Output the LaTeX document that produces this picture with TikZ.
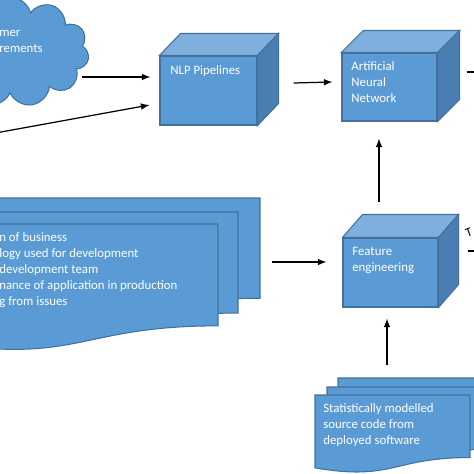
\documentclass[tikz,border=0pt]{standalone}
\usepackage{fontspec}
\setmainfont{Carlito}
\usetikzlibrary{arrows,shapes.symbols}

\definecolor{boxblue}{HTML}{5B9BD5}
\definecolor{boxedge}{HTML}{41719C}
\definecolor{boxtop}{HTML}{7FAFDD}
\definecolor{boxside}{HTML}{4A7EB3}

\newlength\px
\setlength\px{0.02cm}

\tikzset{
	face/.style={draw=boxedge, fill=boxblue, line width=0.6pt, inner sep=0pt},
	lbl/.style={text=white, font=\fontsize{7.3}{9.1}\selectfont, align=left, inner sep=0pt, anchor=north west},
	arr/.style={->, >=latex, line width=0.7pt},
}

% top and right faces of a box, #1 = front node
\newcommand{\boxfaces}[3]{%
	\filldraw[face, fill=boxtop] (#1.north west) -- ++(#2,#3) -- ([shift={(#2,#3)}]#1.north east) -- (#1.north east) -- cycle;
	\filldraw[face, fill=boxside] (#1.north east) -- ([shift={(#2,#3)}]#1.north east) -- ([shift={(#2,#3)}]#1.south east) -- (#1.south east) -- cycle;
}

% one sheet with wavy bottom: left, top, right, height
\newcommand{\sheet}[4]{%
	\filldraw[face] (#1,#2) -- (#3,#2) -- (#3,{#2+0.802*#4})
		.. controls ({(#1+#3)/2},{#2+0.802*#4}) and ({(#1+#3)/2},{#2+1.107*#4}) .. (#1,{#2+0.934*#4}) -- cycle;
}

\begin{document}
\begin{tikzpicture}[x=0.02cm, y=-0.02cm]
	\useasboundingbox (0,0) rectangle (474,474);
	\clip (0,0) rectangle (474,474);

	% cloud
	\node[face, cloud, cloud puffs=11, aspect=1.4, minimum width=158\px, minimum height=110\px] (cloud) at (10,52) {};
	\node[lbl] (cloudtxt) at (-1,29.5) {mer\\rements};

	% boxes
	\node[face, minimum width=97\px, minimum height=69\px] (nlp) at (208.5,90.5) {};
	\boxfaces{nlp}{21}{-22}
	\node[lbl] (nlptxt) at (170,65.5) {NLP Pipelines};

	\node[face, minimum width=95\px, minimum height=68\px] (ann) at (389.5,87) {};
	\boxfaces{ann}{22}{-22}
	\node[lbl] (anntxt) at (351,61.5) {Artificial\\Neural\\Network};

	\node[face, minimum width=95\px, minimum height=69\px] (feat) at (390.5,272.5) {};
	\boxfaces{feat}{20}{-23}
	\node[lbl] (feattxt) at (352,246.5) {Feature\\engineering};

	% stacked sheets, left
	\sheet{-18}{198}{260}{125}
	\sheet{-40}{212}{238}{126}
	\sheet{-60}{224}{218}{127}
	\coordinate (docs) at (260,262);
	\node[lbl] (docstxt) at (-1,232.5) {n of business\\logy used for development\\development team\\nance of application in production\\g from issues};

	% stacked sheets, bottom right
	\sheet{338}{378}{493}{78}
	\sheet{327}{387}{482}{78}
	\sheet{315}{395}{470}{78}
	\coordinate (stat) at (387,378);
	\node[lbl] (stattxt) at (323,403.5) {Statistically modelled\\source code from\\deployed software};

	% loose ends
	\coordinate (inleft) at (-10,134);
	\coordinate (outann) at (490,72);
	\coordinate (outfeat) at (490,251);
	\node[rotate=20, font=\fontsize{7.3}{9.1}\selectfont, inner sep=0pt] (ttxt) at (469,233) {T};

	% connectors
	\draw[arr] ([shift={(72,25)}]cloud.center) -- ([shift={(-9,-13.5)}]nlp.west);
	\draw[arr] (inleft) -- ([shift={(-10,14.5)}]nlp.west);
	\draw[arr] ([shift={(36,-7.5)}]nlp.east) -- ([shift={(-9,-5)}]ann.west);
	\draw[arr] ([shift={(29,-15)}]ann.east) -- (outann);
	\draw[arr] ([shift={(-11.5,-35)}]feat.north) -- ([shift={(-10.5,17)}]ann.south);
	\draw[arr] ([shift={(12,0)}]docs) -- ([shift={(-16,-10.5)}]feat.west);
	\draw[arr] ([shift={(0,-13)}]stat) -- ([shift={(-3.5,11)}]feat.south);
	\draw[arr] ([shift={(29,-21.5)}]feat.east) -- (outfeat);
\end{tikzpicture}
\end{document}
